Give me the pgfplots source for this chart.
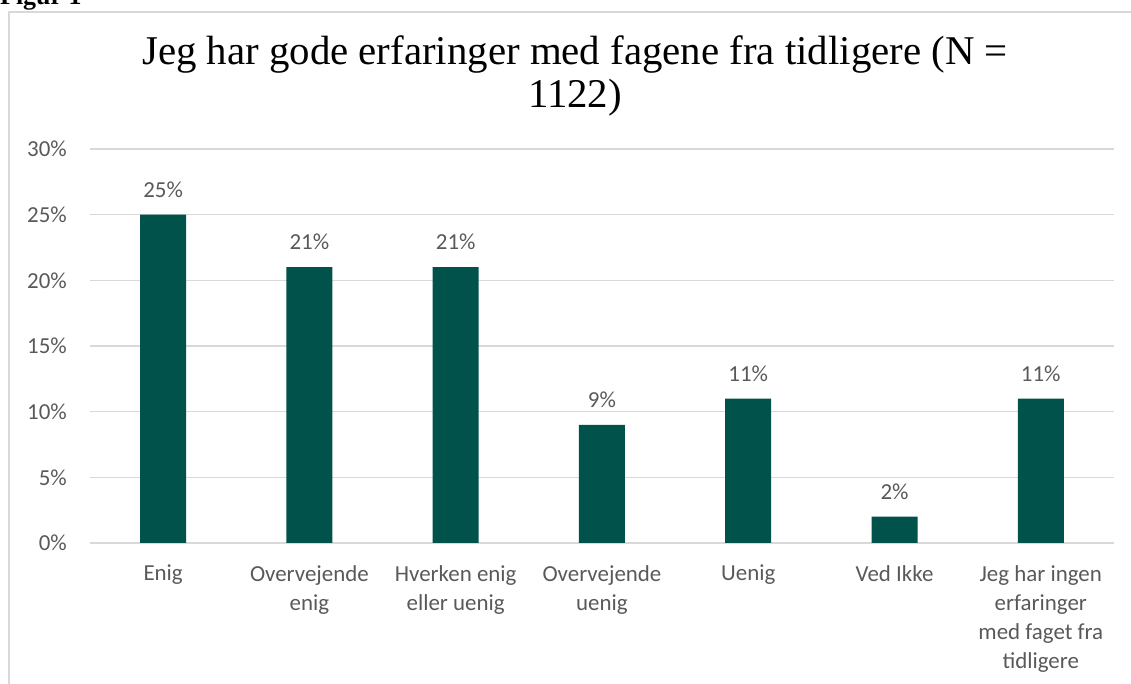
\documentclass[border=0pt]{standalone}
\usepackage{fontspec}
\setmainfont{Carlito}
\newfontfamily\titlefont{Liberation Serif}
\usepackage{pgfplots}
\pgfplotsset{compat=1.18}
\definecolor{barcol}{HTML}{00524A}
\definecolor{txtgray}{HTML}{595959}
\definecolor{gridgray}{HTML}{D9D9D9}

\begin{document}
\begin{tikzpicture}[x=1bp,y=1bp]
\useasboundingbox (0,0) rectangle (1131,684);
\clip (0,0) rectangle (1131,684);
% chart frame
\draw[gridgray, line width=1.3bp] (9,-10) -- (9,672) -- (1140,672);
% caption cut at top
\node[anchor=base west, inner sep=0pt, font=\titlefont\bfseries\fontsize{26}{30}\selectfont] at (0,679) {Figur 1};
% title
\node[anchor=base, inner sep=0pt, font=\titlefont\fontsize{41}{43}\selectfont] at (575,619) {Jeg har gode erfaringer med fagene fra tidligere (N =};
\node[anchor=base, inner sep=0pt, font=\titlefont\fontsize{41}{43}\selectfont] at (575,576) {1122)};
\coordinate (origin) at (90,141);
\begin{axis}[
    at={(origin)}, anchor=south west,
    scale only axis,
    width=1024bp, height=394bp,
    xmin=-0.5, xmax=6.5,
    ymin=0, ymax=30,
    ytick={0,5,10,15,20,25,30},
    xtick={0,1,2,3,4,5,6},
    xticklabels={Enig, Overvejende\\enig, Hverken enig\\eller uenig, Overvejende\\uenig, Uenig, Ved Ikke, Jeg har ingen\\erfaringer\\med faget fra\\tidligere},
    /pgf/number format/assume math mode=true,
    yticklabel={\pgfmathprintnumber{\tick}\%},
    ymajorgrids,
    grid style={gridgray, line width=1.3bp},
    axis x line*=bottom,
    axis y line*=left,
    x axis line style={gridgray, line width=1.3bp, -},
    y axis line style={draw=none},
    major tick length=0pt,
    ticklabel style={font=\fontsize{23}{29.3}\selectfont, color=txtgray, inner sep=0pt},
    xticklabel style={align=center, anchor=north, yshift=-22bp},
    yticklabel style={anchor=east, xshift=-23bp},
    ybar, bar width=46bp,
    nodes near coords={\pgfmathprintnumber{\pgfplotspointmeta}\%},
    nodes near coords style={font=\fontsize{23}{28}\selectfont, color=txtgray, inner sep=0pt, anchor=south, yshift=17bp},
]
\addplot[fill=barcol, draw=none] coordinates {(0,25) (1,21) (2,21) (3,9) (4,11) (5,2) (6,11)};
\end{axis}
\end{tikzpicture}
\end{document}
